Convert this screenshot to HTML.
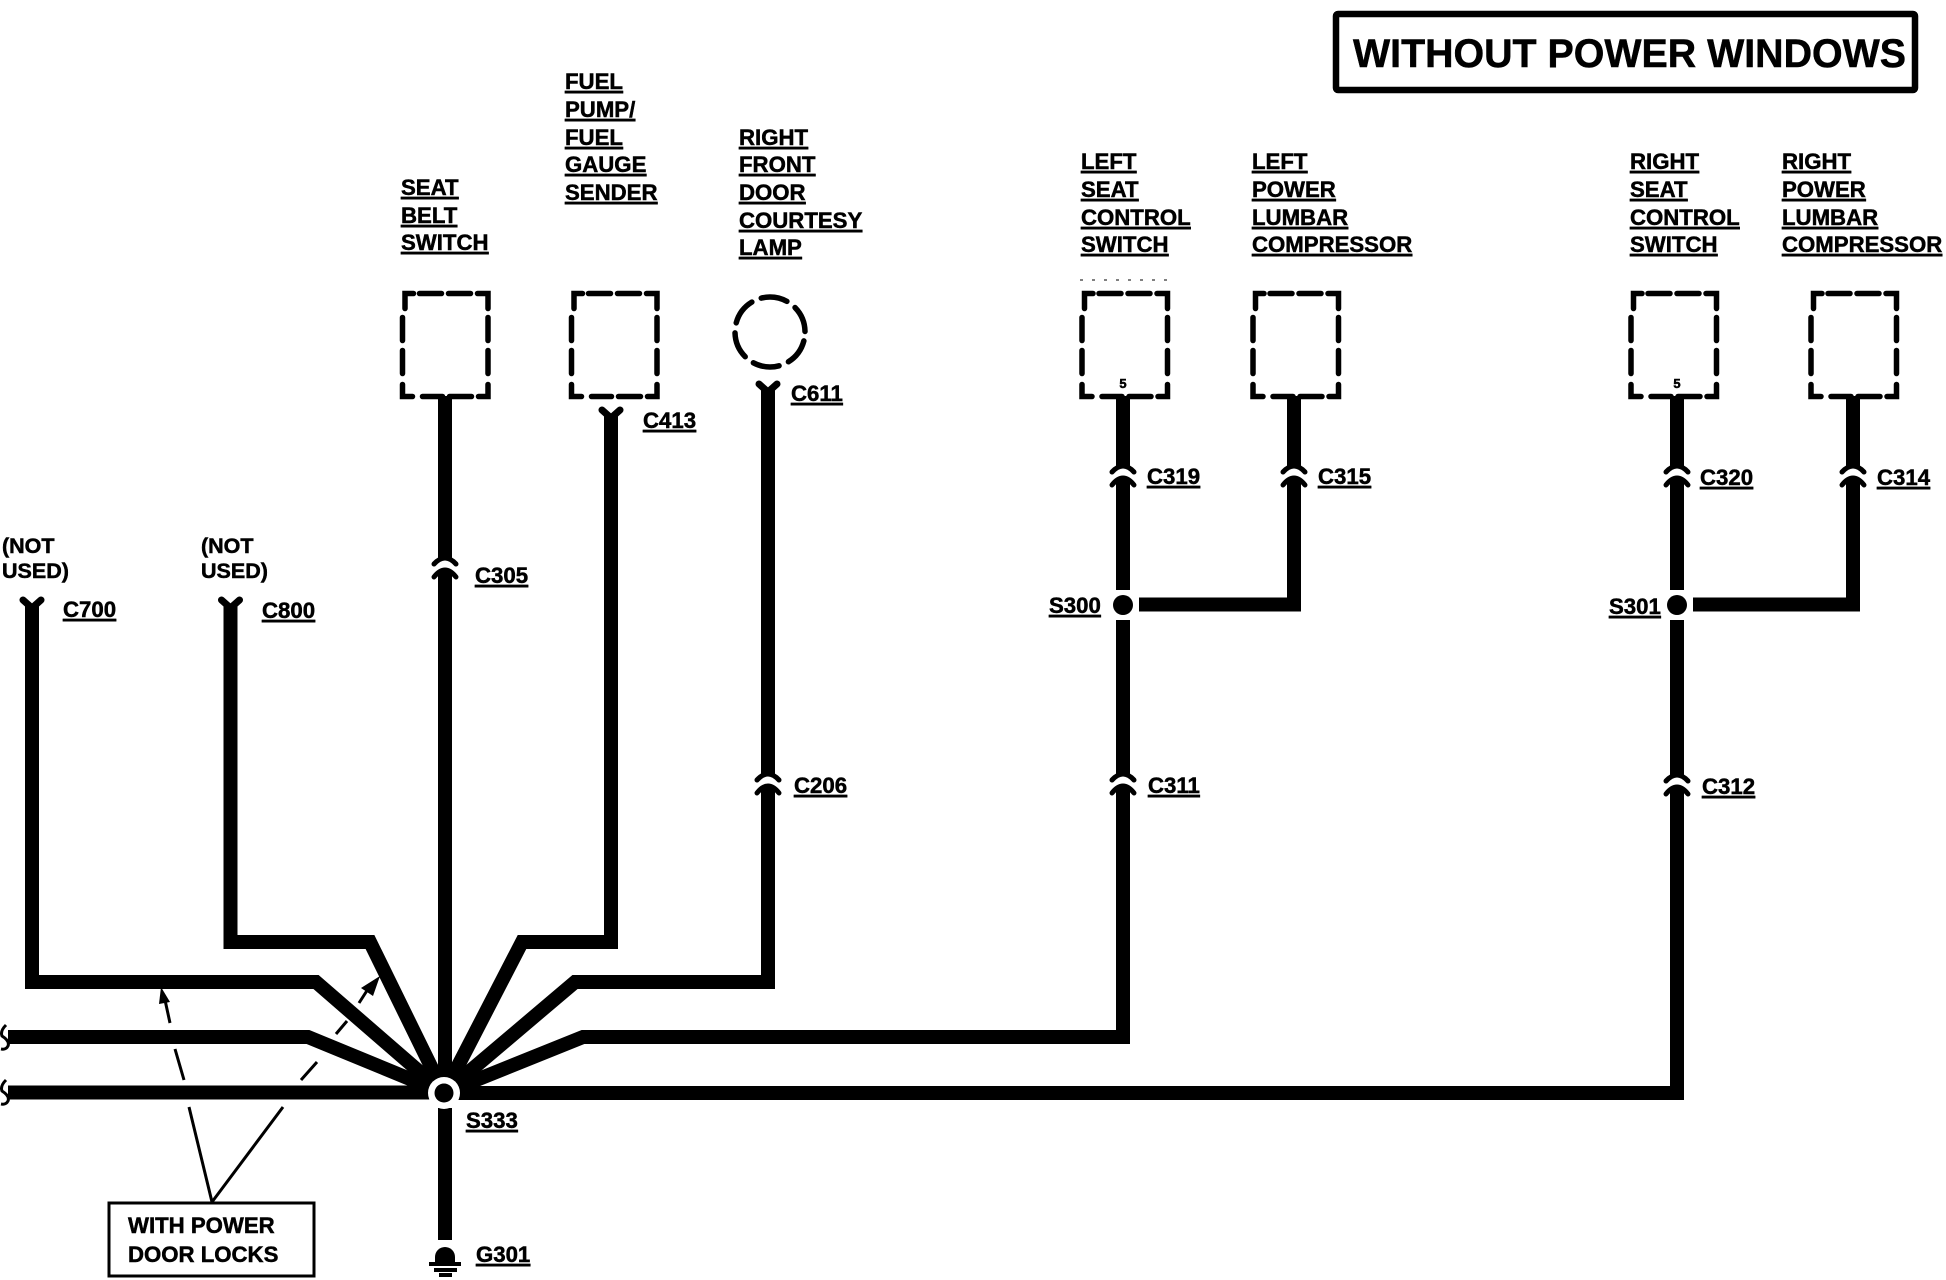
<!DOCTYPE html>
<html><head><meta charset="utf-8">
<style>
html,body{margin:0;padding:0;background:#fff;width:1946px;height:1280px;overflow:hidden}
svg{display:block}
text{font-family:"Liberation Sans",sans-serif;font-weight:700;font-size:22.2px;fill:#000;stroke:#000;stroke-width:.5}
.u{text-decoration:underline}
.w{fill:none;stroke:#000;stroke-width:14;stroke-linejoin:miter}
.d{fill:none;stroke:#000;stroke-width:5.500;stroke-linecap:round}
.y{fill:none;stroke:#000;stroke-width:7;stroke-linecap:round;stroke-linejoin:round}
.c{fill:none;stroke:#000;stroke-width:5;stroke-linecap:round}
.t{fill:none;stroke:#000;stroke-width:3}
</style></head><body>
<svg width="1946" height="1280" viewBox="0 0 1946 1280" xmlns="http://www.w3.org/2000/svg">
<defs>
<g id="box"><path class="d" d="M2.5,15V0H11M17,0H39M46,0H68M75,0H85.500V15M0,24V47M0,57V80M0,91V103H10M20,103H40M47,103H69M76,103H85.500V91M85.500,24V47M85.500,57V80"/></g>
<g id="x"><path class="c" d="M-11,-5Q0,-17 11,-5M-11,8Q0,-6 11,8"/></g>
</defs>

<!-- title -->
<rect x="1336" y="14" width="579" height="76" fill="none" stroke="#000" stroke-width="6.5" rx="2"/>
<text x="1353" y="67" style="font-size:40px" textLength="553" lengthAdjust="spacingAndGlyphs">WITHOUT POWER WINDOWS</text>

<!-- wires -->
<path class="w" d="M32,604V982H316L444,1093"/>
<path class="w" d="M230.500,604V942H370L444,1093"/>
<path class="w" d="M445,396V1093"/>
<path class="w" d="M611,414V942H522L444,1093"/>
<path class="w" d="M768,388V982H575L444,1093"/>
<path class="w" d="M1123,396V590M1123,620V1037H583L444,1093"/>
<path class="w" d="M1677,396V590M1677,620V1093H444"/>
<path class="w" d="M1139,604.500H1294V396"/>
<path class="w" d="M1693,604.500H1853V396"/>
<path class="w" d="M8,1037H308L444,1093"/>
<path class="w" d="M8,1092.500H444"/>
<path class="w" d="M445,1108V1240"/>

<!-- crossover gaps -->
<g fill="#fff">
<rect x="435" y="558" width="20" height="13"/>
<rect x="758" y="774" width="20" height="13"/>
<rect x="1113" y="774" width="20" height="13"/>
<rect x="1667" y="775" width="20" height="13"/>
<rect x="1113" y="466" width="20" height="13"/>
<rect x="1284" y="466" width="20" height="13"/>
<rect x="1667" y="466" width="20" height="13"/>
<rect x="1843" y="466" width="20" height="13"/>
</g>
<use href="#x" x="445" y="569"/>
<use href="#x" x="768" y="785"/>
<use href="#x" x="1123" y="785"/>
<use href="#x" x="1677" y="786"/>
<use href="#x" x="1123" y="477"/>
<use href="#x" x="1294" y="477"/>
<use href="#x" x="1677" y="477"/>
<use href="#x" x="1853" y="477"/>

<!-- Y connector ends -->
<path class="y" d="M23,600L32,608L41,600"/>
<path class="y" d="M221.500,600L230.500,608L239.500,600"/>
<path class="y" d="M602,410L611,418L620,410"/>
<path class="y" d="M759,384L768,392L777,384"/>

<!-- component boxes -->
<use href="#box" x="402.500" y="293.500"/>
<use href="#box" x="571.500" y="293.500"/>
<use href="#box" x="1082" y="293.500"/>
<use href="#box" x="1253" y="293.500"/>
<use href="#box" x="1631" y="293.500"/>
<use href="#box" x="1811" y="293.500"/>
<circle cx="770" cy="332" r="35" fill="none" stroke="#000" stroke-width="5.500" stroke-dasharray="26.500 10.200" stroke-dashoffset="-9" stroke-linecap="round"/>
<path d="M1080,280H1173" stroke="#000" stroke-width="1" stroke-dasharray="3 9" fill="none"/>
<text x="1123" y="388" text-anchor="middle" style="font-size:13px">5</text>
<text x="1677" y="388" text-anchor="middle" style="font-size:13px">5</text>

<!-- splices -->
<circle cx="444" cy="1093" r="16" fill="#fff"/>
<circle cx="444" cy="1093" r="9.500" fill="#000"/>
<circle cx="1123" cy="605" r="10" fill="#000"/>
<circle cx="1677" cy="605" r="10" fill="#000"/>

<!-- breaks -->
<path d="M6,1025Q0,1031 2,1036Q10,1041 8,1046Q6,1050 1,1049" fill="none" stroke="#000" stroke-width="3"/>
<path d="M6,1080Q0,1086 2,1091Q10,1096 8,1101Q6,1105 1,1104" fill="none" stroke="#000" stroke-width="3"/>

<!-- ground -->
<path d="M435,1262V1257A10,10 0 0 1 455,1257V1262Z" fill="#000"/>
<rect x="429" y="1262" width="32" height="4"/>
<rect x="434" y="1268" width="23" height="4"/>
<rect x="439" y="1273" width="13" height="4"/>

<!-- with power door locks callout -->
<rect x="109" y="1203" width="205" height="73" fill="#fff" stroke="#000" stroke-width="3"/>
<path class="t" d="M212,1202L189,1107M212,1202L283,1107M184,1080L175,1049M170,1023L165,1000M301,1080L317,1062M336,1034L347,1021M359,1003L368,989"/>
<path d="M161,987L170,1002L159,1004Z"/>
<path d="M380,976L373,996L361,988Z"/>
<text x="128" y="1233" style="font-size:22.200px">WITH POWER</text>
<text x="128" y="1262" style="font-size:22.200px">DOOR LOCKS</text>

<!-- labels -->
<g class="u">
<text class="u" x="401" y="195">SEAT</text><text class="u" x="401" y="223">BELT</text><text class="u" x="401" y="250">SWITCH</text>
<text class="u" x="565" y="89">FUEL</text><text class="u" x="565" y="117">PUMP/</text><text class="u" x="565" y="145">FUEL</text><text class="u" x="565" y="172">GAUGE</text><text class="u" x="565" y="200">SENDER</text>
<text class="u" x="739" y="145">RIGHT</text><text class="u" x="739" y="172">FRONT</text><text class="u" x="739" y="200">DOOR</text><text class="u" x="739" y="228">COURTESY</text><text class="u" x="739" y="255">LAMP</text>
<text class="u" x="1081" y="169">LEFT</text><text class="u" x="1081" y="197">SEAT</text><text class="u" x="1081" y="225">CONTROL</text><text class="u" x="1081" y="252">SWITCH</text>
<text class="u" x="1252" y="169">LEFT</text><text class="u" x="1252" y="197">POWER</text><text class="u" x="1252" y="225">LUMBAR</text><text class="u" x="1252" y="252">COMPRESSOR</text>
<text class="u" x="1630" y="169">RIGHT</text><text class="u" x="1630" y="197">SEAT</text><text class="u" x="1630" y="225">CONTROL</text><text class="u" x="1630" y="252">SWITCH</text>
<text class="u" x="1782" y="169">RIGHT</text><text class="u" x="1782" y="197">POWER</text><text class="u" x="1782" y="225">LUMBAR</text><text class="u" x="1782" y="252">COMPRESSOR</text>
<text class="u" x="643" y="428">C413</text>
<text class="u" x="791" y="401">C611</text>
<text class="u" x="475" y="583">C305</text>
<text class="u" x="794" y="793">C206</text>
<text class="u" x="1147" y="484">C319</text>
<text class="u" x="1318" y="484">C315</text>
<text class="u" x="1148" y="793">C311</text>
<text class="u" x="1700" y="485">C320</text>
<text class="u" x="1877" y="485">C314</text>
<text class="u" x="1702" y="794">C312</text>
<text class="u" x="1049" y="613">S300</text>
<text class="u" x="1609" y="614">S301</text>
<text class="u" x="63" y="617">C700</text>
<text class="u" x="262" y="618">C800</text>
<text class="u" x="466" y="1128">S333</text>
<text class="u" x="476" y="1262">G301</text>
</g>
<text x="2" y="553" style="font-size:21.500px">(NOT</text><text x="2" y="578" style="font-size:21.500px">USED)</text>
<text x="201" y="553" style="font-size:21.500px">(NOT</text><text x="201" y="578" style="font-size:21.500px">USED)</text>
</svg>
</body></html>
